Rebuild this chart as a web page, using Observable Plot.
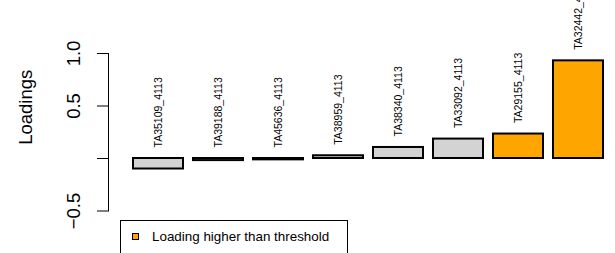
<!DOCTYPE html>
<html>
<head>
<meta charset="utf-8">
<script src="https://cdn.jsdelivr.net/npm/d3@7"></script>
<script src="https://cdn.jsdelivr.net/npm/@observablehq/plot@0.6"></script>
<style>
  html, body { margin: 0; padding: 0; background: white; }
  #wrap { position: relative; width: 615px; height: 253px; overflow: hidden; font-family: "Liberation Sans", Arial, sans-serif; }
  #legend { position: absolute; left: 120px; top: 220px; width: 228px; height: 34px; box-sizing: border-box; border: 1px solid black; background: white; }
  #legend .sw { position: absolute; left: 11px; top: 12px; width: 7px; height: 7px; box-sizing: border-box; border: 1.5px solid black; }
  #legend .lb { position: absolute; left: 31px; top: 9px; font-size: 13.4px; line-height: 14px; white-space: nowrap; color: black; }
</style>
</head>
<body>
<div id="wrap"></div>
<script>
const categories = ["TA35109_4113","TA39188_4113","TA45636_4113","TA38959_4113","TA38340_4113","TA33092_4113","TA29155_4113","TA32442_4113"];
const loadings = [-0.10, -0.02, -0.013, 0.026, 0.105, 0.185, 0.233, 0.93];
const aboveThreshold = [false, false, false, false, false, false, true, true];
const yTicks = [-0.5, 0, 0.5, 1.0];
const yTickLabels = ["\u22120.5", "", "0.5", "1.0"];
const yLabel = "Loadings";
const legendLabel = "Loading higher than threshold";
const colorAbove = "#FFA500";
const colorBelow = "#D3D3D3";

const data = categories.map((c, i) => ({name: c, value: loadings[i], above: aboveThreshold[i]}));
const tickData = yTicks.map((v, i) => ({v, label: yTickLabels[i]})).filter(d => d.label !== "");

const font = "Liberation Sans, Arial, sans-serif";

const chart = Plot.plot({
  width: 615,
  height: 253,
  marginLeft: 108,
  marginRight: 0,
  marginTop: 53,
  marginBottom: 42.5,
  style: {fontFamily: font, overflow: "hidden", background: "white"},
  x: {domain: categories, range: [131, 605.7], paddingInner: 0.2 / 1.2, paddingOuter: 0, axis: null},
  y: {domain: [-0.5, 1.0], axis: null},
  marks: [
    Plot.frame({anchor: "left", stroke: "black", strokeWidth: 1}),
    Plot.axisY(yTicks, {anchor: "left", tickSize: 11, tickFormat: () => "", label: null, stroke: "black", strokeWidth: 1}),
    Plot.text(tickData, {y: "v", text: "label", frameAnchor: "left", textAnchor: "middle", lineAnchor: "middle", dx: -34, rotate: -90, fontSize: 18.5, fill: "black"}),
    Plot.text([yLabel], {text: d => d, frameAnchor: "left", textAnchor: "middle", lineAnchor: "middle", dx: -82, dy: -25, rotate: -90, fontSize: 18.5, fill: "black"}),
    Plot.barY(data, {x: "name", y1: 0, y2: "value", fill: d => d.above ? colorAbove : colorBelow, stroke: "black", strokeWidth: 2}),
    Plot.text(data, {x: "name", y: d => Math.max(d.value, 0), text: "name", rotate: -90, textAnchor: "start", dy: -11, fontSize: 10.5, fill: "black"})
  ]
});

const wrap = document.getElementById("wrap");
wrap.appendChild(chart);
const legend = document.createElement("div");
legend.id = "legend";
legend.innerHTML = `<div class="sw" style="background:${colorAbove}"></div><div class="lb"></div>`;
legend.querySelector(".lb").textContent = legendLabel;
wrap.appendChild(legend);
</script>
</body>
</html>
